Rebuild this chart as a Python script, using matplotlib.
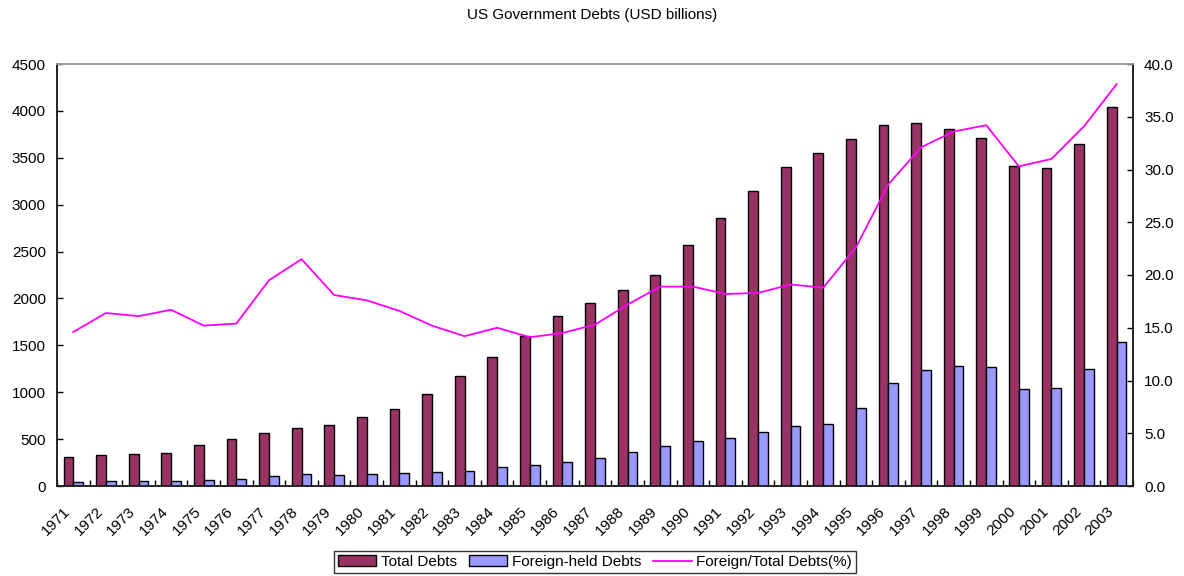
import matplotlib
matplotlib.use("Agg")
import matplotlib.pyplot as plt
import matplotlib.transforms as mtransforms
import numpy as np

years = [str(y) for y in range(1971, 2004)]
total_debts = [310, 330, 340, 350, 440, 505, 565, 620, 655, 735, 825, 985, 1175, 1375,
               1600, 1810, 1955, 2095, 2245, 2565, 2860, 3150, 3400, 3555, 3700, 3845,
               3870, 3805, 3715, 3410, 3395, 3650, 4045]
foreign_debts = [45, 55, 55, 58, 65, 75, 105, 125, 115, 125, 135, 145, 160, 200,
                 220, 260, 295, 360, 425, 480, 515, 575, 640, 665, 830, 1100,
                 1240, 1280, 1270, 1035, 1050, 1245, 1535]
foreign_pct = [14.6, 16.4, 16.1, 16.7, 15.2, 15.4, 19.5, 21.5, 18.1, 17.6, 16.6, 15.2,
               14.2, 15.0, 14.1, 14.5, 15.3, 17.2, 18.9, 18.9, 18.2, 18.3, 19.1, 18.8,
               22.6, 28.6, 32.1, 33.6, 34.2, 30.3, 31.0, 34.1, 38.1]
left_ticks = [0, 500, 1000, 1500, 2000, 2500, 3000, 3500, 4000, 4500]
right_ticks = [0, 5, 10, 15, 20, 25, 30, 35, 40]

plt.rcParams['font.family'] = ['Liberation Sans', 'DejaVu Sans']

fig = plt.figure(figsize=(11.84, 5.76), dpi=100)
ax = fig.add_axes([57/1184, 1-486/576, (1133-57)/1184, (486-64)/576])
ax2 = ax.twinx()

x = np.arange(len(years))
w = 0.3
b1 = ax.bar(x - w/2, total_debts, width=w, color='#993366', edgecolor='black', linewidth=1.0, label='Total Debts')
b2 = ax.bar(x + w/2, foreign_debts, width=w, color='#9999FF', edgecolor='black', linewidth=1.0, label='Foreign-held Debts')
l1, = ax2.plot(x, foreign_pct, color='#FF00FF', linewidth=1.3, label='Foreign/Total Debts(%)')

ax.set_xlim(-0.5, len(years) - 0.5)
ax.set_ylim(0, 4500)
ax2.set_ylim(0, 40)
ax.set_yticks(left_ticks)
ax.set_yticklabels([str(t) for t in left_ticks], fontsize=11)
ax2.set_yticks(right_ticks)
ax2.set_yticklabels([f"{t:.1f}" for t in right_ticks], fontsize=11)

ax.set_xticks(x)
ax.set_xticklabels(years, rotation=45, ha='right', rotation_mode='anchor', fontsize=11)
ax.tick_params(axis='x', which='major', length=0, pad=13)
offset = mtransforms.ScaledTranslation(-10/100, 0, fig.dpi_scale_trans)
for lab in ax.get_xticklabels():
    lab.set_transform(lab.get_transform() + offset)
ax.set_xticks(np.arange(-0.5, len(years), 1), minor=True)
ax.tick_params(axis='x', which='minor', length=4, direction='in', width=1)
ax.tick_params(axis='y', length=4, direction='in', width=1, pad=8)
ax2.tick_params(axis='y', length=4, direction='in', width=1, pad=8)

for a in (ax, ax2):
    a.spines['top'].set_color('#A0A0A0')
    a.spines['top'].set_linewidth(1.2)
    for s in ('left', 'right', 'bottom'):
        a.spines[s].set_color('#222222')
        a.spines[s].set_linewidth(1.2)

fig.text(592/1184, 1-15/576, 'US Government Debts (USD billions)', ha='center', va='center', fontsize=11)

leg = fig.legend([b1, b2, l1], ['Total Debts', 'Foreign-held Debts', 'Foreign/Total Debts(%)'],
                 loc='center', bbox_to_anchor=(595/1184, 1-562/576), ncol=3, fontsize=11,
                 frameon=True, fancybox=False, shadow=False, borderpad=0.25,
                 handlelength=2.5, handletextpad=0.3, columnspacing=0.8, borderaxespad=0)
leg.get_frame().set_edgecolor('black')
leg.get_frame().set_linewidth(1.0)

fig.savefig('out.png', dpi=100)
